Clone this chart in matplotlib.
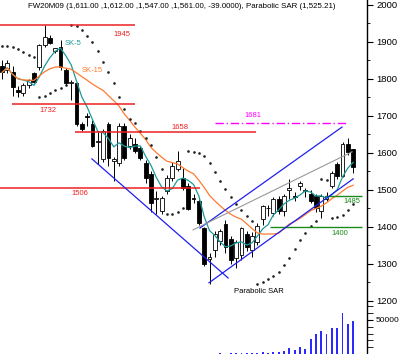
import numpy as np
import pandas as pd
import matplotlib
matplotlib.use("Agg")
import matplotlib.pyplot as plt
from matplotlib.ticker import MultipleLocator, FixedLocator

plt.rcParams['font.family'] = ['Liberation Sans', 'DejaVu Sans']

# daily OHLC for FW20M09
opens = [1834, 1823, 1818, 1770, 1761, 1783, 1815, 1832, 1891, 1910, 1875, 1886, 1823, 1788,
         1788, 1679, 1701, 1679, 1630, 1584, 1679, 1579, 1573, 1674, 1620, 1625, 1614, 1573,
         1544, 1476, 1443, 1497, 1533, 1557, 1533, 1511, 1478, 1470, 1396, 1313, 1337, 1361,
         1408, 1367, 1316, 1324, 1381, 1337, 1359, 1421, 1450, 1438, 1476, 1443, 1500, 1483,
         1511, 1497, 1489, 1484, 1443, 1476, 1511, 1571, 1538, 1625, 1611]
highs = [1850, 1851, 1835, 1780, 1790, 1800, 1818, 1895, 1946, 1920, 1885, 1905, 1830, 1796,
         1792, 1685, 1709, 1690, 1660, 1665, 1685, 1590, 1680, 1680, 1650, 1640, 1620, 1580,
         1550, 1497, 1485, 1540, 1575, 1606, 1560, 1520, 1490, 1475, 1400, 1330, 1390, 1395,
         1420, 1375, 1365, 1400, 1390, 1385, 1410, 1460, 1460, 1480, 1485, 1490, 1530, 1495,
         1525, 1505, 1500, 1490, 1490, 1495, 1550, 1575, 1630, 1640, 1612]
lows = [1800, 1815, 1755, 1752, 1755, 1775, 1790, 1825, 1886, 1895, 1870, 1825, 1785, 1742,
        1672, 1660, 1674, 1615, 1571, 1575, 1565, 1525, 1565, 1580, 1610, 1600, 1580, 1520,
        1440, 1435, 1435, 1490, 1525, 1550, 1500, 1445, 1465, 1405, 1295, 1247, 1320, 1350,
        1330, 1300, 1290, 1310, 1335, 1320, 1350, 1405, 1430, 1430, 1435, 1430, 1475, 1470,
        1500, 1480, 1465, 1440, 1425, 1470, 1505, 1530, 1535, 1595, 1547]
closes = [1818, 1842, 1777, 1766, 1783, 1796, 1791, 1891, 1913, 1897, 1883, 1832, 1788, 1791,
          1679, 1666, 1696, 1620, 1632, 1660, 1587, 1584, 1674, 1587, 1641, 1606, 1587, 1533,
          1465, 1478, 1478, 1533, 1565, 1579, 1505, 1448, 1476, 1410, 1299, 1318, 1381, 1389,
          1345, 1310, 1359, 1396, 1345, 1375, 1402, 1457, 1452, 1476, 1443, 1484, 1505, 1481,
          1519, 1497, 1470, 1451, 1484, 1484, 1546, 1538, 1625, 1603, 1561]
volumes = [0] * 41 + [2000, 0, 2000, 1000, 1000, 1000, 1000, 2000, 3400, 2000, 3400, 3400,
                      4400, 9300, 5900, 10300, 7800, 22000, 29000, 34000, 29500, 38700, 38700,
                      60000, 43700, 48500]

# support / resistance levels
red_levels = [1945, 1732, 1658, 1506]
red_spans = [(-0.4, 25.0), (1.9, 25.0), (13.7, 47.8), (-0.4, 37.2)]
red_label_pos = [(22.6, 1920), (8.6, 1714), (33.5, 1668), (14.7, 1490)]
green_levels = [1485, 1400]
green_spans = [(60.7, 67.7), (50.4, 67.7)]
green_label_pos = [(65.8, 1470), (63.5, 1383)]
target_level = 1681
target_span = (40.0, 64.9)

# trend lines (index, price)
down_line = ([16.9, 42.5], [1584, 1262])
channel_upper = ([37.2, 63.9], [1397, 1670])
channel_lower = ([38.9, 66.0], [1249, 1530])
mid_line = ([35.9, 65.8], [1392, 1603])

title = ("FW20M09 (1,611.00 ,1,612.00 ,1,547.00 ,1,561.00, -39.0000), "
         "Parabolic SAR (1,525.21)")


def parabolic_sar(high, low, start, af0=0.02, afmax=0.2):
    n = len(high)
    sar = np.zeros(n)
    sar[0] = start
    up = False
    af = af0
    ep = low[0]
    for i in range(1, n):
        s = sar[i - 1] + af * (ep - sar[i - 1])
        if up:
            s = min(s, low[i - 1], low[max(i - 2, 0)])
            if low[i] < s:
                up, s, ep, af = False, ep, low[i], af0
            elif high[i] > ep:
                ep, af = high[i], min(af + af0, afmax)
        else:
            s = max(s, high[i - 1], high[max(i - 2, 0)])
            if high[i] > s:
                up, s, ep, af = True, ep, high[i], af0
            elif low[i] < ep:
                ep, af = low[i], min(af + af0, afmax)
        sar[i] = s
    return sar


x = np.arange(len(closes))
close_s = pd.Series(closes, dtype=float)
sk5 = close_s.rolling(5, min_periods=1).mean()
sk15 = close_s.rolling(15, min_periods=1).mean()
sar = parabolic_sar(np.array(highs, float), np.array(lows, float), 1890)

fig = plt.figure(figsize=(4.0, 3.54), dpi=100)
ax = fig.add_axes([0, 1 - 305 / 354, 367 / 400, 305 / 354])
axv = fig.add_axes([0, 0, 367 / 400, 49 / 354])

teal = '#1e9a9a'
orange = '#ff7a30'
red = '#ee2020'
green = '#1a8a1a'

for i in x:
    ax.vlines(i, lows[i], highs[i], color='black', lw=0.7, zorder=3)
    up = closes[i] >= opens[i]
    lo, hi = min(opens[i], closes[i]), max(opens[i], closes[i])
    ax.add_patch(plt.Rectangle((i - 0.36, lo), 0.72, max(hi - lo, 2),
                               facecolor='white' if up else 'black',
                               edgecolor='black', lw=0.6, zorder=4))

ax.plot(x, sk5, color=teal, lw=0.9, zorder=5)
ax.plot(x, sk15, color=orange, lw=0.9, zorder=5)
ax.plot(x, sar, 'o', color='#222222', ms=0.9, zorder=5)

for lvl, (a, b), (tx, ty) in zip(red_levels, red_spans, red_label_pos):
    ax.hlines(lvl, a, b, color=red, lw=1.1, zorder=6)
    ax.text(tx, ty, str(lvl), color=red, fontsize=5.5, ha='center', va='center')
for lvl, (a, b), (tx, ty) in zip(green_levels, green_spans, green_label_pos):
    ax.hlines(lvl, a, b, color=green, lw=1.0, zorder=6)
    ax.text(tx, ty, str(lvl), color=green, fontsize=5.5, ha='center', va='center')
ax.hlines(target_level, *target_span, color='#ff00ff', lw=1.0, linestyles=(0, (6, 2, 1, 2)), zorder=6)
ax.text(47.2, 1700, str(target_level), color='#ff00ff', fontsize=5.5, ha='center', va='center')

for lx, ly in (down_line, channel_upper, channel_lower):
    ax.plot(lx, ly, color='#2020ee', lw=0.9, zorder=6)
ax.plot(*mid_line, color='#999999', lw=0.8, zorder=6)

ax.text(13.3, 1895, 'SK-5', color=teal, fontsize=5.5, ha='center', va='center')
ax.text(17.0, 1823, 'SK-15', color=orange, fontsize=5.5, ha='center', va='center')
ax.text(48.2, 1225, 'Parabolic SAR', color='black', fontsize=5.5, ha='center', va='center')
ax.text(4.9, 1997, title, color='black', fontsize=5.7, ha='left', va='center')

xlim = (-0.38, 68.6)
for a in (ax, axv):
    a.set_xlim(*xlim)
    a.set_facecolor('white')
    for side in ('left', 'top', 'bottom'):
        a.spines[side].set_visible(False)
    a.spines['right'].set_linewidth(1.0)
    a.set_xticks([])
    a.yaxis.tick_right()
    a.tick_params(axis='y', which='major', length=4, width=0.8, labelsize=6.8, pad=3)
    a.tick_params(axis='y', which='minor', length=2.5, width=0.6)

ax.set_ylim(1189, 2013.5)
ax.yaxis.set_major_locator(MultipleLocator(100))
ax.yaxis.set_minor_locator(MultipleLocator(50))

axv.bar(x, volumes, width=0.35, color='#2a2aff')
axv.set_ylim(0, 72000)
axv.yaxis.set_major_locator(FixedLocator([50000]))
axv.yaxis.set_minor_locator(FixedLocator([10000, 20000, 30000, 40000, 60000, 70000]))
axv.tick_params(axis='y', which='major', labelsize=6.0, pad=2)
axv.tick_params(axis='y', which='minor', length=4)

fig.savefig('out.png', dpi=100, facecolor='white')
